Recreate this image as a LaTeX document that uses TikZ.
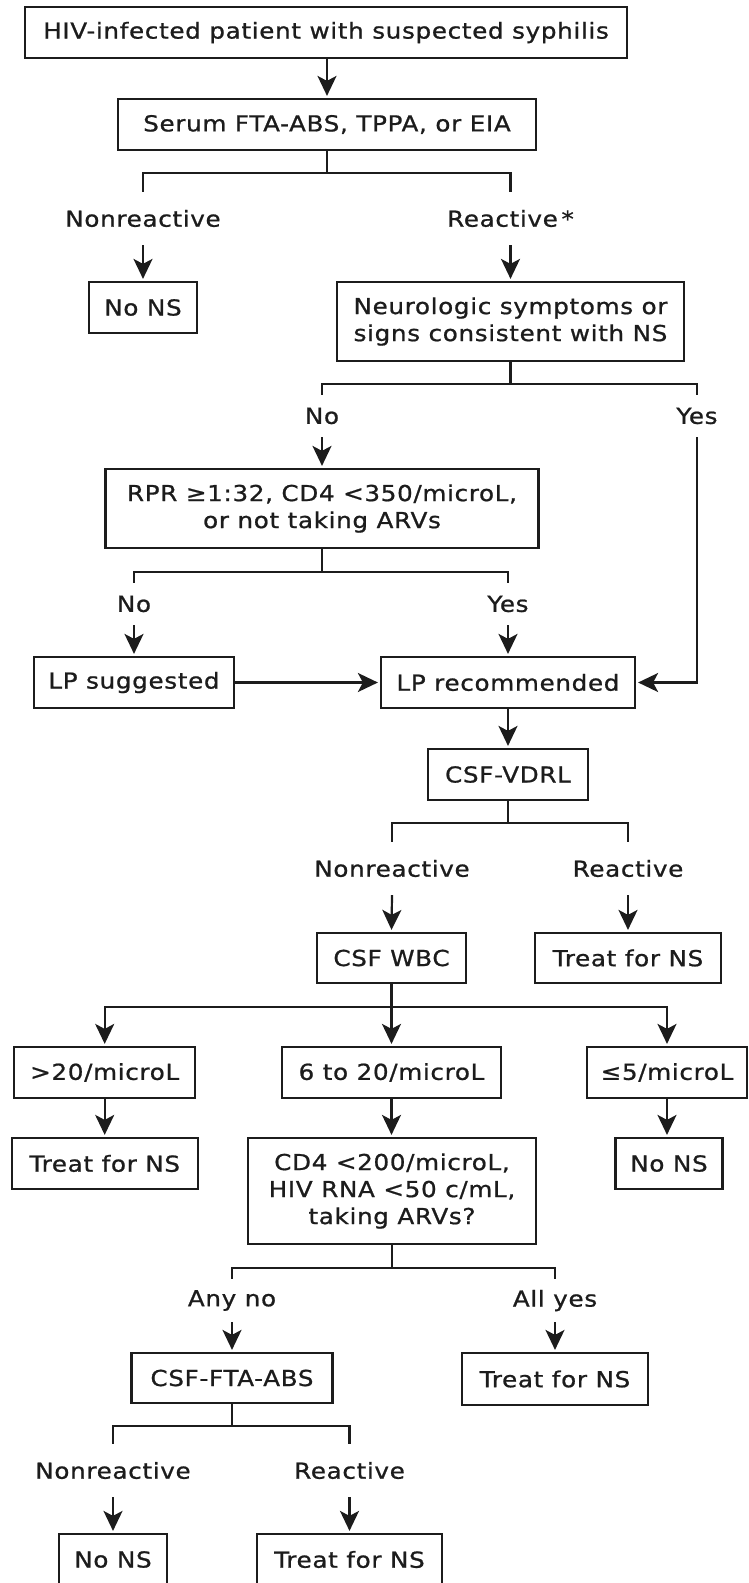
\documentclass[tikz,border=0pt]{standalone}
\usepackage{fontspec}
\setmainfont{DejaVu Sans}[FakeStretch=1.12,LetterSpace=3,FakeBold=0.9]
\usetikzlibrary{arrows.meta}
\definecolor{ink}{RGB}{28,28,28}
\begin{document}
\begin{tikzpicture}[x=1pt,y=-1pt,
  every node/.style={font=\fontsize{22}{27}\selectfont, text=ink},
  box/.style={draw=ink, line width=2.2pt, inner sep=0pt, align=center},
  lbl/.style={inner sep=0pt, minimum height=#1},
  link/.style={draw=ink, line width=2.2pt},
  arr/.style={link, -{Stealth[length=20pt,width=19pt,inset=5pt]}, shorten >=2pt}]
\useasboundingbox (0,0) rectangle (748,1583);
\clip (0,0) rectangle (748,1583);
% boxes
\node[box, minimum width=602pt, minimum height=51pt] (top) at (326,32.5) {HIV-infected patient with suspected syphilis};
\node[box, minimum width=418pt, minimum height=51pt] (serum) at (327,124.5) {Serum FTA-ABS, TPPA, or EIA};
\node[box, minimum width=108pt, minimum height=51pt] (nons1) at (143,307.5) {No NS};
\node[box, minimum width=347pt, minimum height=79pt] (neuro) at (510.5,321.5) {Neurologic symptoms or\\signs consistent with NS};
\node[box, minimum width=433pt, minimum height=79pt] (rpr) at (322,508.5) {RPR ≥1:32, CD4 <350/microL,\\or not taking ARVs};
\node[box, minimum width=200pt, minimum height=51pt] (lpsug) at (134,682.5) {LP suggested};
\node[box, minimum width=254pt, minimum height=51pt] (lprec) at (508,682.5) {LP recommended};
\node[box, minimum width=160pt, minimum height=51pt] (vdrl) at (508,774.5) {CSF-VDRL};
\node[box, minimum width=149pt, minimum height=50pt] (wbc) at (391.5,958) {CSF WBC};
\node[box, minimum width=186pt, minimum height=50pt] (treat1) at (628,958) {Treat for NS};
\node[box, minimum width=181pt, minimum height=51pt] (gt20) at (104.7,1072.5) {>20/microL};
\node[box, minimum width=219pt, minimum height=51pt] (six20) at (391.5,1072.5) {6 to 20/microL};
\node[box, minimum width=160pt, minimum height=51pt] (le5) at (667,1072.5) {≤5/microL};
\node[box, minimum width=186pt, minimum height=51pt] (treat2) at (104.8,1163.5) {Treat for NS};
\node[box, minimum width=288pt, minimum height=106pt] (cd4) at (392,1191) {CD4 <200/microL,\\HIV RNA <50 c/mL,\\taking ARVs?};
\node[box, minimum width=107pt, minimum height=51pt] (nons2) at (669,1163.5) {No NS};
\node[box, minimum width=201pt, minimum height=50pt] (fta) at (232,1378) {CSF-FTA-ABS};
\node[box, minimum width=186pt, minimum height=52pt] (treat3) at (555,1379) {Treat for NS};
\node[box, minimum width=108.5pt, minimum height=51pt] (nons3) at (113,1559.5) {No NS};
\node[box, minimum width=184.5pt, minimum height=51pt] (treat4) at (349.5,1559.5) {Treat for NS};
% branch labels
\node[lbl=53pt] (l1n) at (143,218.5) {Nonreactive};
\node[lbl=53pt] (l1r) at (510.5,218.5) {Reactive\,*};
\node[lbl=42pt] (l2n) at (322,416) {No};
\node[lbl=42pt] (l2y) at (697,416) {Yes};
\node[lbl=42pt] (l3n) at (134,604) {No};
\node[lbl=42pt] (l3y) at (508,604) {Yes};
\node[lbl=53pt] (l4n) at (392,868.5) {Nonreactive};
\node[lbl=53pt] (l4r) at (628,868.5) {Reactive};
\node[lbl=43pt] (l6n) at (232,1300.5) {Any no};
\node[lbl=43pt] (l6y) at (555,1300.5) {All yes};
\node[lbl=53pt] (l7n) at (113,1470.5) {Nonreactive};
\node[lbl=53pt] (l7r) at (349.5,1470.5) {Reactive};
% connectors
\draw[arr] (top.south -| serum.north) -- (serum.north);
\coordinate (j1) at ([yshift=-22pt]serum.south);
\draw[link] (serum.south) -- (j1) -| (l1n.north);
\draw[link] (j1) -| (l1r.north);
\draw[arr] (l1n.south) -- (nons1.north);
\draw[arr] (l1r.south) -- (neuro.north);
\coordinate (j2) at ([yshift=-22pt]neuro.south);
\draw[link] (neuro.south) -- (j2) -| (l2n.north);
\draw[link] (j2) -| (l2y.north);
\draw[arr] (l2n.south) -- (rpr.north);
\draw[arr] (l2y.south) |- (lprec.east);
\coordinate (j3) at ([yshift=-23pt]rpr.south);
\draw[link] (rpr.south) -- (j3) -| (l3n.north);
\draw[link] (j3) -| (l3y.north);
\draw[arr] (l3n.south) -- (lpsug.north);
\draw[arr] (l3y.south) -- (lprec.north);
\draw[arr] (lpsug.east) -- (lprec.west);
\draw[arr] (lprec.south) -- (vdrl.north);
\coordinate (j4) at ([yshift=-22pt]vdrl.south);
\draw[link] (vdrl.south) -- (j4) -| (l4n.north);
\draw[link] (j4) -| (l4r.north);
\draw[arr] (l4n.south) -- (wbc.north);
\draw[arr] (l4r.south) -- (treat1.north);
\coordinate (j5) at ([yshift=-23pt]wbc.south);
\draw[arr] (wbc.south) -- (six20.north);
\draw[arr] (j5) -| (gt20.north);
\draw[arr] (j5) -| (le5.north);
\draw[arr] (gt20.south) -- (gt20.south |- treat2.north);
\draw[arr] (six20.south) -- (six20.south |- cd4.north);
\draw[arr] (le5.south) -- (le5.south |- nons2.north);
\coordinate (j6) at ([yshift=-23pt]cd4.south);
\draw[link] (cd4.south) -- (j6) -| (l6n.north);
\draw[link] (j6) -| (l6y.north);
\draw[arr] (l6n.south) -- (fta.north);
\draw[arr] (l6y.south) -- (treat3.north);
\coordinate (j7) at ([yshift=-22pt]fta.south);
\draw[link] (fta.south) -- (j7) -| (l7n.north);
\draw[link] (j7) -| (l7r.north);
\draw[arr] (l7n.south) -- (nons3.north);
\draw[arr] (l7r.south) -- (treat4.north);
\end{tikzpicture}
\end{document}
